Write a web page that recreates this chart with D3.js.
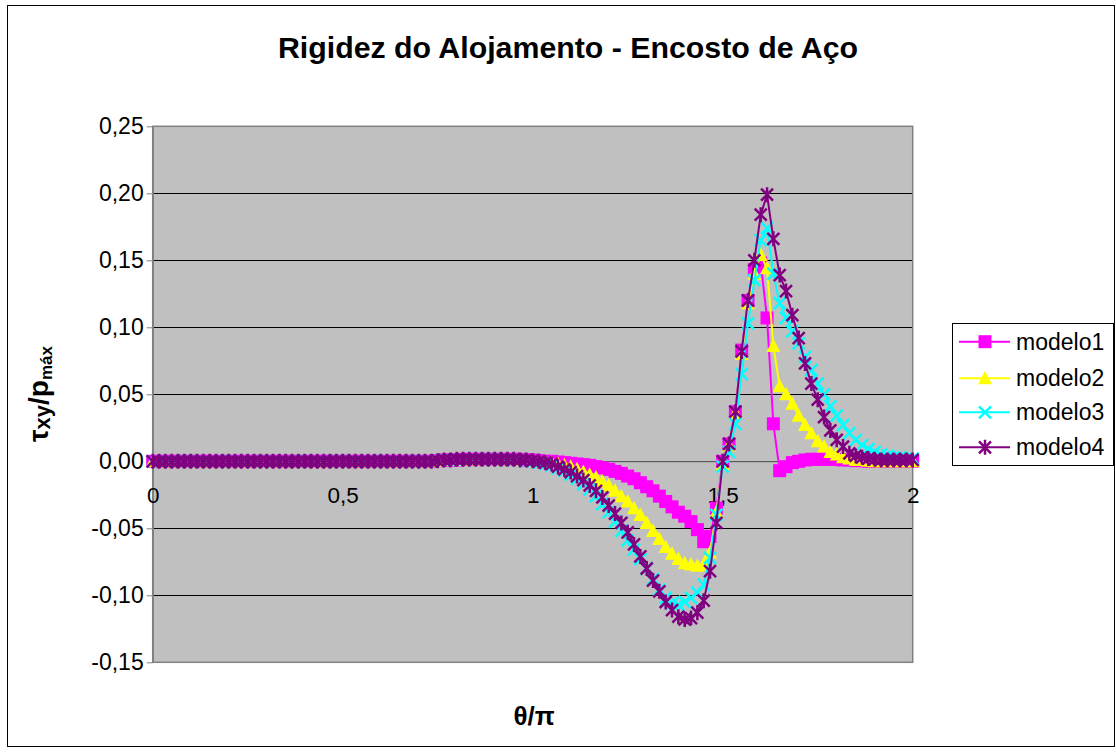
<!DOCTYPE html>
<html>
<head>
<meta charset="utf-8">
<script src="https://cdn.jsdelivr.net/npm/d3@7"></script>
<style>
  body { margin: 0; background: #fff; }
  svg { display: block; }
  text { font-family: "Liberation Sans", Arial, sans-serif; }
</style>
</head>
<body>
<svg id="chart" width="1116" height="752"></svg>
<script>
// θ in degrees, sampled every 3° from 0 to 360 (plotted as θ/π)
const thetaDeg = [
  0,3,6,9,12,15,18,21,24,27,30,33,36,39,42,
  45,48,51,54,57,60,63,66,69,72,75,78,81,84,87,
  90,93,96,99,102,105,108,111,114,117,120,123,126,129,132,
  135,138,141,144,147,150,153,156,159,162,165,168,171,174,177,
  180,183,186,189,192,195,198,201,204,207,210,213,216,219,222,
  225,228,231,234,237,240,243,246,249,252,255,258,261,264,267,
  270,273,276,279,282,285,288,291,294,297,300,303,306,309,312,
  315,318,321,324,327,330,333,336,339,342,345,348,351,354,357,
  360
];

// τxy/pmáx for each model
const modelo1 = [
  0,0,0,0,0,0,0,0,0,0,0,0,0,0,0,
  0,0,0,0,0,0,0,0,0,0,0,0,0,0,0,
  0,0,0,0,0,0,0,0,0,0,0,0,0,0,0,
  0.0005,0.001,0.001,0.001,0.0015,0.0015,0.0015,0.0015,0.0015,0.0015,0.0015,0.0015,0.0015,0.0015,0.001,
  0.001,0.0005,0,0,-0.0005,-0.001,-0.0015,-0.002,-0.0025,-0.003,-0.004,-0.005,-0.006,-0.0075,-0.009,
  -0.011,-0.013,-0.016,-0.019,-0.022,-0.026,-0.030,-0.034,-0.038,-0.041,-0.045,-0.051,-0.060,-0.056,-0.035,
  0,0.013,0.037,0.083,0.120,0.143,0.148,0.107,0.028,-0.007,-0.004,-0.001,0,0.001,0.0015,
  0.0015,0.0015,0.0015,0.0015,0.001,0.001,0.0005,0.0005,0,0,0,0,0,0,0,
  0
];
const modelo2 = [
  0,0,0,0,0,0,0,0,0,0,0,0,0,0,0,
  0,0,0,0,0,0,0,0,0,0,0,0,0,0,0,
  0,0,0,0,0,0,0,0,0,0,0,0,0,0,0,
  0.0005,0.001,0.001,0.001,0.0015,0.0015,0.0015,0.0015,0.0015,0.0015,0.0015,0.0015,0.0015,0.001,0.001,
  0.0005,0,-0.0005,-0.001,-0.002,-0.003,-0.004,-0.006,-0.008,-0.010,-0.012,-0.015,-0.018,-0.022,-0.026,
  -0.030,-0.035,-0.040,-0.046,-0.052,-0.058,-0.064,-0.069,-0.073,-0.076,-0.077,-0.078,-0.077,-0.068,-0.038,
  -0.002,0.012,0.036,0.080,0.118,0.140,0.154,0.144,0.086,0.056,0.050,0.043,0.034,0.027,0.021,
  0.015,0.011,0.007,0.005,0.003,0.002,0.001,0.001,0.0005,0,0,0,0,0,0,
  0
];
const modelo3 = [
  0,0,0,0,0,0,0,0,0,0,0,0,0,0,0,
  0,0,0,0,0,0,0,0,0,0,0,0,0,0,0,
  0,0,0,0,0,0,0,0,0,0,0,0,0,0,0,
  0.0005,0.001,0.001,0.001,0.0015,0.0015,0.0015,0.0015,0.0015,0.0015,0.0015,0.0015,0.001,0.001,0.0005,
  0,-0.001,-0.002,-0.003,-0.005,-0.007,-0.010,-0.013,-0.017,-0.021,-0.026,-0.032,-0.038,-0.045,-0.052,
  -0.059,-0.066,-0.073,-0.080,-0.088,-0.096,-0.102,-0.106,-0.107,-0.105,-0.102,-0.098,-0.092,-0.072,-0.040,
  -0.004,0.007,0.028,0.065,0.103,0.135,0.165,0.174,0.140,0.118,0.107,0.097,0.088,0.078,0.068,
  0.058,0.050,0.041,0.034,0.027,0.021,0.016,0.012,0.009,0.007,0.005,0.004,0.003,0.003,0.002,
  0.002
];
const modelo4 = [
  0,0,0,0,0,0,0,0,0,0,0,0,0,0,0,
  0,0,0,0,0,0,0,0,0,0,0,0,0,0,0,
  0,0,0,0,0,0,0,0,0,0,0,0,0,0,0,
  0.0005,0.001,0.001,0.0015,0.0015,0.0015,0.0015,0.0015,0.0015,0.0015,0.0015,0.0015,0.0015,0.001,0.001,
  0.0005,0,-0.001,-0.002,-0.004,-0.006,-0.008,-0.011,-0.014,-0.018,-0.022,-0.027,-0.033,-0.039,-0.046,
  -0.053,-0.062,-0.071,-0.080,-0.089,-0.097,-0.105,-0.111,-0.116,-0.118,-0.117,-0.113,-0.104,-0.082,-0.046,
  0,0.013,0.037,0.082,0.120,0.150,0.184,0.199,0.166,0.139,0.127,0.109,0.092,0.073,0.058,
  0.046,0.033,0.023,0.016,0.011,0.006,0.004,0.003,0.002,0.0015,0.001,0.001,0.001,0.001,0.001,
  0.001
];

const seriesNames = ["modelo1", "modelo2", "modelo3", "modelo4"];
const yTicks = [-0.15, -0.10, -0.05, 0, 0.05, 0.10, 0.15, 0.20, 0.25];
const xTicks = [0, 0.5, 1, 1.5, 2];

const chartTitle = "Rigidez do Alojamento - Encosto de Aço";

// ---- styling ----
const seriesStyle = [
  { color: "#ff00ff", marker: "square" },
  { color: "#ffff00", marker: "triangle" },
  { color: "#00ffff", marker: "cross" },
  { color: "#800080", marker: "asterisk" }
];

const W = 1116, H = 752;
const plot = { left: 152.7, right: 912.7, top: 126.3, bottom: 662.3 };

const ptBR = d3.formatLocale({ decimal: ",", thousands: ".", grouping: [3], currency: ["R$", ""], minus: "-" });
const fmtY = ptBR.format(".2f");
const fmtX = v => ptBR.format("")(v).replace(".", ",");

const svg = d3.select("#chart");

// chart frame
svg.append("rect")
  .attr("x", 0).attr("y", 0).attr("width", W).attr("height", H)
  .attr("fill", "#fff");
svg.append("rect")
  .attr("x", 7.5).attr("y", 5.5).attr("width", 1107).attr("height", 741)
  .attr("fill", "none").attr("stroke", "#000").attr("stroke-width", 1);

const x = d3.scaleLinear().domain([0, 2]).range([plot.left, plot.right]);
const y = d3.scaleLinear().domain([-0.15, 0.25]).range([plot.bottom, plot.top]);

// plot background
svg.append("rect")
  .attr("x", plot.left).attr("y", plot.top)
  .attr("width", plot.right - plot.left).attr("height", plot.bottom - plot.top)
  .attr("fill", "#c0c0c0");

// horizontal gridlines
svg.append("g")
  .selectAll("line")
  .data(yTicks.filter(t => t > -0.15 && t < 0.25))
  .join("line")
  .attr("x1", plot.left).attr("x2", plot.right)
  .attr("y1", d => Math.round(y(d)) + 0.5).attr("y2", d => Math.round(y(d)) + 0.5)
  .attr("stroke", "#000").attr("stroke-width", 1);

// plot border
svg.append("rect")
  .attr("x", plot.left).attr("y", plot.top)
  .attr("width", plot.right - plot.left).attr("height", plot.bottom - plot.top)
  .attr("fill", "none").attr("stroke", "#808080").attr("stroke-width", 1.5);

// y axis
const yAxis = svg.append("g")
  .attr("transform", `translate(${plot.left},0)`)
  .call(d3.axisLeft(y).tickValues(yTicks).tickFormat(fmtY).tickSize(6).tickPadding(3).tickSizeOuter(0));
yAxis.select(".domain").attr("stroke", "#808080").attr("stroke-width", 1.5);
yAxis.selectAll(".tick line").attr("stroke", "#808080");
yAxis.selectAll("text")
  .attr("font-size", 23).attr("fill", "#000")
  .style("font-family", '"Liberation Sans", Arial, sans-serif');

// x axis crossing at zero
const xAxis = svg.append("g")
  .attr("transform", `translate(0,${y(0)})`)
  .call(d3.axisBottom(x).tickValues(xTicks).tickFormat(fmtX).tickSize(5).tickPadding(21).tickSizeOuter(0));
xAxis.select(".domain").attr("stroke", "#808080").attr("stroke-width", 1);
xAxis.selectAll(".tick line").attr("stroke", "#808080");
xAxis.selectAll("text")
  .attr("font-size", 22.5).attr("fill", "#000")
  .style("font-family", '"Liberation Sans", Arial, sans-serif');

// marker shapes
function drawMarker(g, kind, color) {
  if (kind === "square") {
    g.append("rect").attr("x", -6.5).attr("y", -6.5).attr("width", 13).attr("height", 13)
      .attr("fill", color);
  } else if (kind === "triangle") {
    g.append("path").attr("d", "M0,-7.5L7,6L-7,6Z").attr("fill", color);
  } else if (kind === "cross") {
    g.append("path").attr("d", "M-6,-6L6,6M-6,6L6,-6")
      .attr("stroke", color).attr("stroke-width", 2.5).attr("fill", "none");
  } else if (kind === "asterisk") {
    g.append("path").attr("d", "M-6,-6L6,6M-6,6L6,-6M0,-7.5L0,7.5")
      .attr("stroke", color).attr("stroke-width", 2.5).attr("fill", "none");
  }
}

const allSeries = [modelo1, modelo2, modelo3, modelo4];
const thetaOverPi = thetaDeg.map(d => d / 180);

const line = d3.line()
  .x(d => x(d[0]))
  .y(d => y(d[1]));

allSeries.forEach((vals, si) => {
  const st = seriesStyle[si];
  const pts = vals.map((v, i) => [thetaOverPi[i], v]);
  const g = svg.append("g").attr("class", "series " + seriesNames[si]);
  g.append("path")
    .attr("d", line(pts))
    .attr("fill", "none")
    .attr("stroke", st.color)
    .attr("stroke-width", 2)
    .attr("stroke-linejoin", "round");
  g.selectAll("g.pt")
    .data(pts)
    .join("g")
    .attr("class", "pt")
    .attr("transform", d => `translate(${x(d[0])},${y(d[1])})`)
    .each(function () { drawMarker(d3.select(this), st.marker, st.color); });
});

// title
svg.append("text")
  .attr("x", 568).attr("y", 58)
  .attr("text-anchor", "middle")
  .attr("font-size", 30.3).attr("font-weight", "bold")
  .text(chartTitle);

// x axis title
svg.append("text")
  .attr("x", 534).attr("y", 725)
  .attr("text-anchor", "middle")
  .attr("font-size", 26).attr("font-weight", "bold")
  .text("θ/π");

// y axis title
const yt = svg.append("text")
  .attr("transform", "translate(48,394) rotate(-90)")
  .attr("text-anchor", "middle")
  .attr("font-weight", "bold")
  .attr("font-size", 28);
yt.append("tspan").text("τ");
yt.append("tspan").attr("font-size", 22).attr("dy", 2).text("xy");
yt.append("tspan").attr("dy", -2).text("/p");
yt.append("tspan").attr("font-size", 17).attr("dy", 4).text("máx");

// legend
const lg = svg.append("g").attr("transform", "translate(952,323)");
lg.append("rect")
  .attr("x", 0.5).attr("y", 0.5).attr("width", 161).attr("height", 142)
  .attr("fill", "#fff").attr("stroke", "#000").attr("stroke-width", 1);
const entryY = [18.7, 55.3, 89.3, 124.3];
seriesNames.forEach((name, si) => {
  const st = seriesStyle[si];
  const e = lg.append("g").attr("transform", `translate(0,${entryY[si]})`);
  e.append("line").attr("x1", 7).attr("x2", 58).attr("y1", 0).attr("y2", 0)
    .attr("stroke", st.color).attr("stroke-width", 2);
  drawMarker(e.append("g").attr("transform", "translate(33,0)"), st.marker, st.color);
  e.append("text").attr("x", 64).attr("y", 0).attr("dy", "0.35em")
    .attr("font-size", 23).text(name);
});
</script>
</body>
</html>
